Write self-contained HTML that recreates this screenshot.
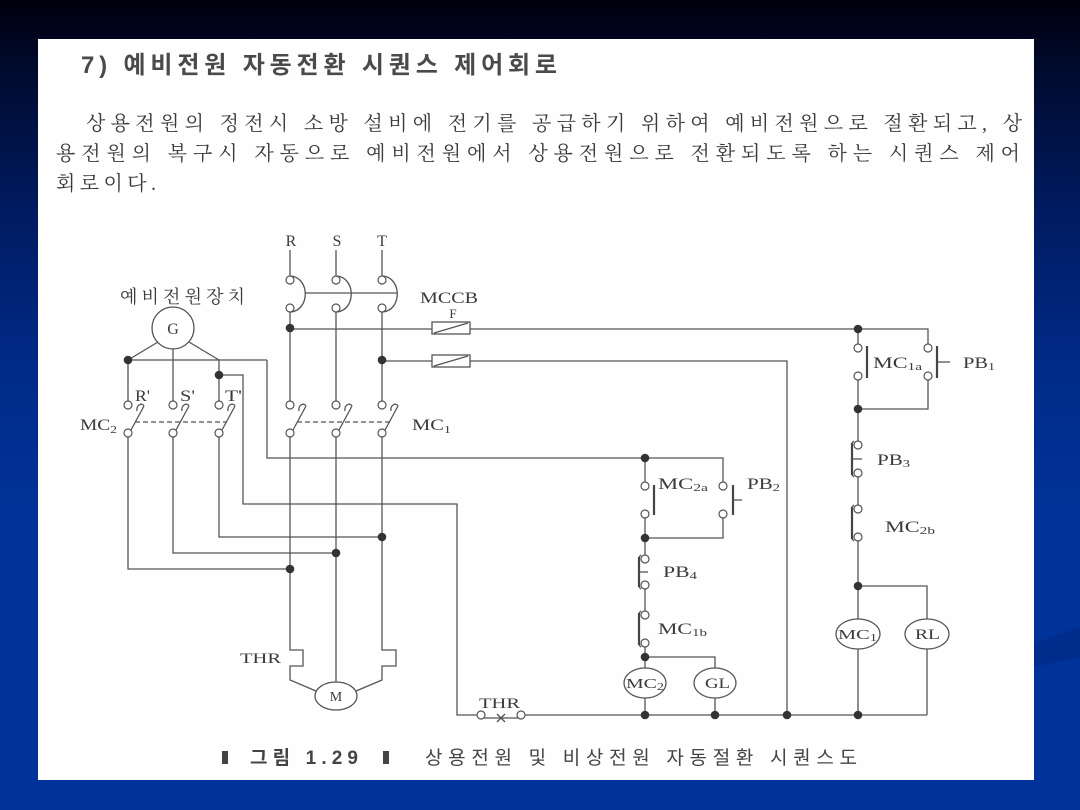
<!DOCTYPE html>
<html><head><meta charset="utf-8"><style>
html,body{margin:0;padding:0;width:1080px;height:810px;overflow:hidden;}
svg{display:block;}
</style></head><body>
<svg width="1080" height="810" viewBox="0 0 1080 810" xmlns="http://www.w3.org/2000/svg">
<defs>
<linearGradient id="bg" x1="0" y1="0" x2="0" y2="1">
<stop offset="0" stop-color="#00000c"/>
<stop offset="0.08" stop-color="#000a2c"/>
<stop offset="0.25" stop-color="#001a5e"/>
<stop offset="0.45" stop-color="#002a88"/>
<stop offset="0.65" stop-color="#003399"/>
<stop offset="1" stop-color="#003399"/>
</linearGradient>
</defs>
<rect x="0" y="0" width="1080" height="810" fill="url(#bg)"/>
<polygon points="1034,643 1080,627 1080,657 1034,667" fill="#002d8c"/>
<rect x="38" y="39" width="996" height="741" fill="#fefefe"/>

<!-- Title & paragraph -->
<g fill="#4a4a4a">
<text x="81" y="73" font-family="'Liberation Sans','Noto Sans CJK KR','Noto Sans CJK SC',sans-serif" font-weight="bold" font-size="24" textLength="476" lengthAdjust="spacing">7) 예비전원 자동전환 시퀀스 제어회로</text>
</g>
<g fill="#3a3a3a" font-family="'Liberation Serif','Noto Serif CJK SC',serif" font-size="20">
<text x="86" y="130" textLength="936" lengthAdjust="spacing">상용전원의 정전시 소방 설비에 전기를 공급하기 위하여 예비전원으로 절환되고, 상</text>
<text x="56" y="160" textLength="964" lengthAdjust="spacing">용전원의 복구시 자동으로 예비전원에서 상용전원으로 전환되도록 하는 시퀀스 제어</text>
<text x="56" y="190" textLength="100" lengthAdjust="spacing">회로이다.</text>
</g>

<!-- Caption -->
<rect x="222" y="751" width="6" height="13" fill="#444"/>
<rect x="383" y="751" width="6" height="13" fill="#444"/>
<g fill="#444" font-family="'Liberation Sans','Noto Sans CJK KR','Noto Sans CJK SC',sans-serif" font-size="19">
<text x="250" y="764" font-weight="bold" textLength="108" lengthAdjust="spacing">그림 1.29</text>
<text x="425" y="764" textLength="432" lengthAdjust="spacing">상용전원 및 비상전원 자동절환 시퀀스도</text>
</g>

<!-- Circuit wires -->
<g stroke="#555" stroke-width="1.3" fill="none">
<line x1="290" y1="250" x2="290" y2="276"/>
<line x1="336" y1="250" x2="336" y2="276"/>
<line x1="382" y1="250" x2="382" y2="276"/>
<path d="M291,276 C310,278 310,310 291,312"/>
<path d="M337,276 C356,278 356,310 337,312"/>
<path d="M383,276 C402,278 402,310 383,312"/>
<line x1="305" y1="293" x2="397" y2="293"/>
<line x1="290" y1="312" x2="290" y2="401"/>
<line x1="336" y1="312" x2="336" y2="401"/>
<line x1="382" y1="312" x2="382" y2="401"/>
<path d="M293,430 L306,406 M306,406 C304,402 298,405 299,411"/>
<path d="M339,430 L352,406 M352,406 C350,402 344,405 345,411"/>
<path d="M385,430 L398,406 M398,406 C396,402 390,405 391,411"/>
<line x1="297" y1="422" x2="390" y2="422" stroke-dasharray="5,3"/>
<path d="M131,430 L144,406 M144,406 C142,402 136,405 137,411"/>
<path d="M176,430 L189,406 M189,406 C187,402 181,405 182,411"/>
<path d="M222,430 L235,406 M235,406 C233,402 227,405 228,411"/>
<line x1="135" y1="422" x2="227" y2="422" stroke-dasharray="5,3"/>
<path d="M290,437 L290,650 L303,650 L303,666 L290,666 L290,680 L316,691"/>
<line x1="336" y1="437" x2="336" y2="682"/>
<path d="M382,437 L382,650 L396,650 L396,666 L382,666 L382,680 L356,691"/>
<line x1="158" y1="342" x2="128" y2="360"/>
<line x1="173" y1="349" x2="173" y2="401"/>
<line x1="189" y1="342" x2="219" y2="360"/>
<line x1="128" y1="360" x2="267" y2="360"/>
<line x1="128" y1="360" x2="128" y2="401"/>
<line x1="219" y1="360" x2="219" y2="401"/>
<path d="M128,437 L128,569 L290,569"/>
<path d="M173,437 L173,553 L336,553"/>
<path d="M219,437 L219,537 L382,537"/>
<path d="M219,375 L243,375 L243,504 L457,504 L457,715 L477,715"/>
<path d="M267,360 L267,458 L723,458 L723,482"/>
<line x1="290" y1="329" x2="432" y2="329"/>
<path d="M470,329 L928,329 L928,344"/>
<line x1="382" y1="361" x2="432" y2="361"/>
<path d="M470,361 L787,361 L787,715"/>
<rect x="432" y="322" width="38" height="12"/>
<line x1="434" y1="333" x2="468" y2="323"/>
<rect x="432" y="355" width="38" height="12"/>
<line x1="434" y1="366" x2="468" y2="356"/>
<line x1="645" y1="458" x2="645" y2="482"/>
<line x1="645" y1="518" x2="645" y2="555"/>
<line x1="645" y1="589" x2="645" y2="611"/>
<line x1="645" y1="647" x2="645" y2="668"/>
<line x1="645" y1="698" x2="645" y2="715"/>
<path d="M723,518 L723,538 L645,538"/>
<path d="M645,657 L715,657 L715,668"/>
<line x1="715" y1="698" x2="715" y2="715"/>
<line x1="858" y1="329" x2="858" y2="344"/>
<line x1="858" y1="380" x2="858" y2="441"/>
<line x1="858" y1="477" x2="858" y2="505"/>
<line x1="858" y1="541" x2="858" y2="619"/>
<line x1="858" y1="649" x2="858" y2="715"/>
<path d="M928,380 L928,409 L858,409"/>
<path d="M858,586 L927,586 L927,619"/>
<line x1="927" y1="649" x2="927" y2="715"/>
<line x1="525" y1="715" x2="927" y2="715"/>
<line x1="484" y1="718" x2="518" y2="718"/>
<line x1="497" y1="714" x2="505" y2="722"/>
<line x1="497" y1="722" x2="505" y2="714"/>
</g>

<g stroke="#444" stroke-width="2.2" fill="none">
<line x1="654" y1="485" x2="654" y2="515"/>
<line x1="733" y1="485" x2="733" y2="515"/>
<line x1="867" y1="346" x2="867" y2="378"/>
<line x1="937" y1="346" x2="937" y2="378"/>
<line x1="639" y1="557" x2="639" y2="587"/>
<line x1="639" y1="613" x2="639" y2="645"/>
<line x1="852" y1="443" x2="852" y2="475"/>
<line x1="852" y1="507" x2="852" y2="539"/>
</g>
<g stroke="#555" stroke-width="1.3" fill="none">
<line x1="733" y1="500" x2="742" y2="500"/>
<line x1="937" y1="362" x2="950" y2="362"/>
<line x1="639" y1="572" x2="648" y2="572"/>
<line x1="852" y1="459" x2="862" y2="459"/>
<path d="M639,557 L641,555"/><path d="M639,587 L641,589"/>
<path d="M639,613 L641,611"/><path d="M639,645 L641,647"/>
<path d="M852,443 L854,441"/><path d="M852,475 L854,477"/>
<path d="M852,507 L854,505"/><path d="M852,539 L854,541"/>
</g>

<g stroke="#555" stroke-width="1.2" fill="#fff">
<circle cx="290" cy="280" r="4"/><circle cx="290" cy="308" r="4"/>
<circle cx="336" cy="280" r="4"/><circle cx="336" cy="308" r="4"/>
<circle cx="382" cy="280" r="4"/><circle cx="382" cy="308" r="4"/>
<circle cx="290" cy="405" r="4"/><circle cx="290" cy="433" r="4"/>
<circle cx="336" cy="405" r="4"/><circle cx="336" cy="433" r="4"/>
<circle cx="382" cy="405" r="4"/><circle cx="382" cy="433" r="4"/>
<circle cx="128" cy="405" r="4"/><circle cx="128" cy="433" r="4"/>
<circle cx="173" cy="405" r="4"/><circle cx="173" cy="433" r="4"/>
<circle cx="219" cy="405" r="4"/><circle cx="219" cy="433" r="4"/>
<circle cx="645" cy="486" r="4"/><circle cx="645" cy="514" r="4"/>
<circle cx="723" cy="486" r="4"/><circle cx="723" cy="514" r="4"/>
<circle cx="645" cy="559" r="4"/><circle cx="645" cy="585" r="4"/>
<circle cx="645" cy="615" r="4"/><circle cx="645" cy="643" r="4"/>
<circle cx="858" cy="348" r="4"/><circle cx="858" cy="376" r="4"/>
<circle cx="928" cy="348" r="4"/><circle cx="928" cy="376" r="4"/>
<circle cx="858" cy="445" r="4"/><circle cx="858" cy="473" r="4"/>
<circle cx="858" cy="509" r="4"/><circle cx="858" cy="537" r="4"/>
<circle cx="481" cy="715" r="4"/><circle cx="521" cy="715" r="4"/>
</g>

<g stroke="#555" stroke-width="1.3" fill="#fff">
<circle cx="173" cy="328" r="21"/>
<ellipse cx="336" cy="696" rx="21" ry="14"/>
<ellipse cx="645" cy="683" rx="21" ry="15"/>
<ellipse cx="715" cy="683" rx="21" ry="15"/>
<ellipse cx="858" cy="634" rx="22" ry="15"/>
<ellipse cx="927" cy="634" rx="22" ry="15"/>
</g>

<g fill="#333">
<circle cx="290" cy="328" r="4.3"/>
<circle cx="382" cy="360" r="4.3"/>
<circle cx="128" cy="360" r="4.3"/>
<circle cx="219" cy="375" r="4.3"/>
<circle cx="290" cy="569" r="4.3"/>
<circle cx="336" cy="553" r="4.3"/>
<circle cx="382" cy="537" r="4.3"/>
<circle cx="645" cy="458" r="4.3"/>
<circle cx="645" cy="538" r="4.3"/>
<circle cx="858" cy="329" r="4.3"/>
<circle cx="858" cy="409" r="4.3"/>
<circle cx="645" cy="657" r="4.3"/>
<circle cx="858" cy="586" r="4.3"/>
<circle cx="645" cy="715" r="4.3"/>
<circle cx="715" cy="715" r="4.3"/>
<circle cx="787" cy="715" r="4.3"/>
<circle cx="858" cy="715" r="4.3"/>
</g>

<g fill="#3a3a3a" font-family="'Liberation Serif',serif" font-size="16">
<text x="291" y="246" text-anchor="middle">R</text>
<text x="337" y="246" text-anchor="middle">S</text>
<text x="382" y="246" text-anchor="middle">T</text>
<text x="420" y="303" textLength="58" lengthAdjust="spacingAndGlyphs">MCCB</text>
<text x="453" y="318" text-anchor="middle" font-size="13">F</text>
<text x="120" y="303" font-family="'Liberation Serif','Noto Serif CJK SC',serif" font-size="18" textLength="125" lengthAdjust="spacing">예비전원장치</text>
<text x="173" y="334" text-anchor="middle">G</text>
<text x="135" y="401" textLength="15" lengthAdjust="spacingAndGlyphs">R'</text>
<text x="180" y="401" textLength="15" lengthAdjust="spacingAndGlyphs">S'</text>
<text x="225" y="401" textLength="17" lengthAdjust="spacingAndGlyphs">T'</text>
<text x="80" y="430" textLength="37" lengthAdjust="spacingAndGlyphs">MC<tspan font-size="11" dy="3">2</tspan></text>
<text x="412" y="430" textLength="39" lengthAdjust="spacingAndGlyphs">MC<tspan font-size="11" dy="3">1</tspan></text>
<text x="240" y="663" font-size="15" textLength="41" lengthAdjust="spacingAndGlyphs">THR</text>
<text x="336" y="701" text-anchor="middle" font-size="14">M</text>
<text x="658" y="489" textLength="50" lengthAdjust="spacingAndGlyphs">MC<tspan font-size="11" dy="2">2a</tspan></text>
<text x="747" y="489" textLength="33" lengthAdjust="spacingAndGlyphs">PB<tspan font-size="11" dy="2">2</tspan></text>
<text x="873" y="368" textLength="49" lengthAdjust="spacingAndGlyphs">MC<tspan font-size="11" dy="2">1a</tspan></text>
<text x="963" y="368" textLength="32" lengthAdjust="spacingAndGlyphs">PB<tspan font-size="11" dy="2">1</tspan></text>
<text x="877" y="465" textLength="33" lengthAdjust="spacingAndGlyphs">PB<tspan font-size="11" dy="2">3</tspan></text>
<text x="885" y="532" textLength="50" lengthAdjust="spacingAndGlyphs">MC<tspan font-size="11" dy="2">2b</tspan></text>
<text x="663" y="577" textLength="34" lengthAdjust="spacingAndGlyphs">PB<tspan font-size="11" dy="2">4</tspan></text>
<text x="658" y="634" textLength="49" lengthAdjust="spacingAndGlyphs">MC<tspan font-size="11" dy="2">1b</tspan></text>
<text x="626" y="688" font-size="14" textLength="38" lengthAdjust="spacingAndGlyphs">MC<tspan font-size="10" dy="2">2</tspan></text>
<text x="705" y="688" font-size="15" textLength="25" lengthAdjust="spacingAndGlyphs">GL</text>
<text x="479" y="708" font-size="15" textLength="41" lengthAdjust="spacingAndGlyphs">THR</text>
<text x="838" y="639" font-size="14" textLength="39" lengthAdjust="spacingAndGlyphs">MC<tspan font-size="10" dy="2">1</tspan></text>
<text x="915" y="639" font-size="15" textLength="25" lengthAdjust="spacingAndGlyphs">RL</text>
</g>
</svg>
</body></html>
